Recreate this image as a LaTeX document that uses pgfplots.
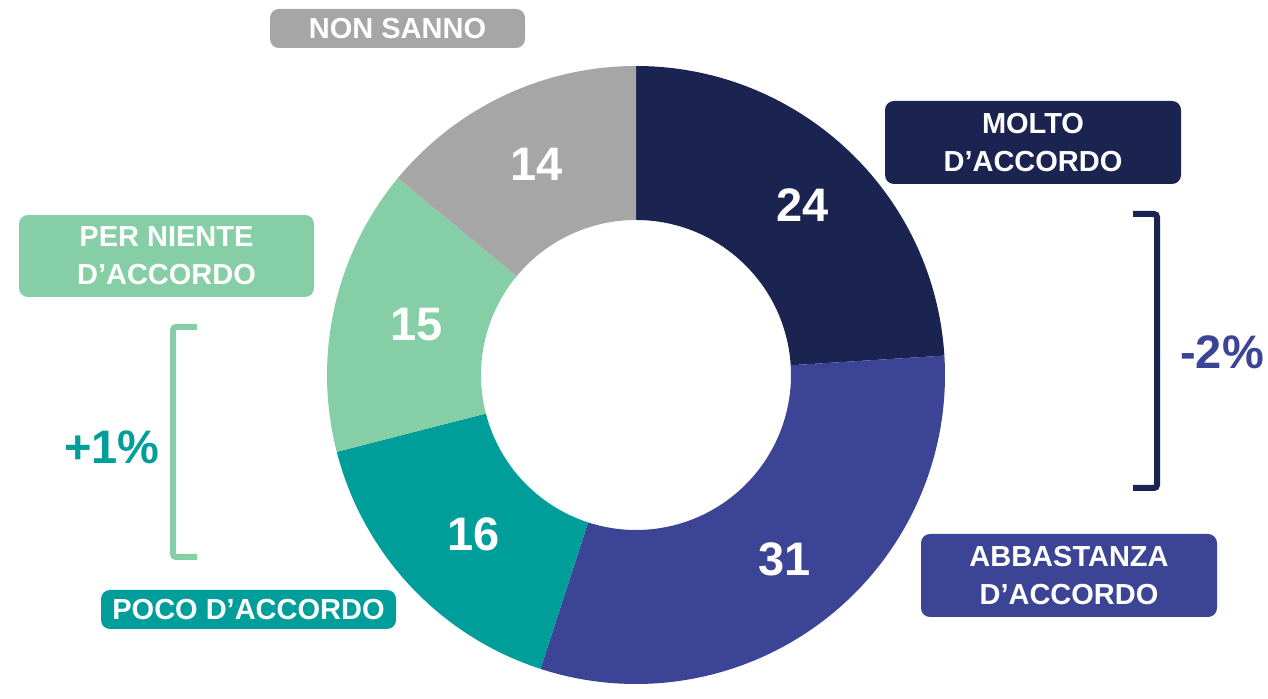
\documentclass[border=0pt]{standalone}
\usepackage{pgfplots}
\usepackage{pgfplotstable}
\pgfplotsset{compat=1.18}
\usetikzlibrary{calc}
\usepackage{fontspec}
\setmainfont{Liberation Sans}
\definecolor{col0}{HTML}{1B2450}
\definecolor{col1}{HTML}{3C4496}
\definecolor{col2}{HTML}{009E9A}
\definecolor{col3}{HTML}{86CEA6}
\definecolor{col4}{HTML}{A6A6A6}

\pgfplotstableread{
label value dx
Molto 24 7
Abbastanza 31 6
Poco 16 7
PerNiente 15 8
NonSanno 14 0
}\donutdata

\newcommand\prepdonut{%
  \gdef\cumangle{90}%
  \pgfplotsforeachungrouped \i in {0,...,4}{%
    \pgfplotstablegetelem{\i}{value}\of\donutdata
    \edef\curval{\pgfplotsretval}%
    \pgfplotstablegetelem{\i}{dx}\of\donutdata
    \edef\curdx{\pgfplotsretval}%
    \pgfmathsetmacro\sa{\cumangle}%
    \pgfmathsetmacro\ea{\cumangle-3.6*\curval}%
    \pgfmathsetmacro\ma{(\sa+\ea)/2}%
    \expandafter\xdef\csname sa\i\endcsname{\sa}%
    \expandafter\xdef\csname ea\i\endcsname{\ea}%
    \expandafter\xdef\csname ma\i\endcsname{\ma}%
    \expandafter\xdef\csname val\i\endcsname{\curval}%
    \expandafter\xdef\csname dx\i\endcsname{\curdx}%
    \xdef\cumangle{\ea}%
  }}
\prepdonut

\begin{document}
\begin{tikzpicture}
\begin{axis}[scale only axis, width=1268pt, height=684pt,
  xmin=0, xmax=1268, ymin=0, ymax=684, hide axis, clip=false]
\draw[draw=none] (axis cs:0,0) rectangle (axis cs:1268,684);
\pgfplotsinvokeforeach{0,...,4}{
  \fill[col#1] ($(axis cs:636,309)+(\csname sa#1\endcsname:309pt)$)
     arc[start angle=\csname sa#1\endcsname, end angle=\csname ea#1\endcsname, radius=309pt]
     -- ($(axis cs:636,309)+(\csname ea#1\endcsname:155pt)$)
     arc[start angle=\csname ea#1\endcsname, end angle=\csname sa#1\endcsname, radius=155pt]
     -- cycle;
  \node[text=white, font=\fontsize{47}{47}\selectfont\bfseries, xshift=\csname dx#1\endcsname pt]
     at ($(axis cs:636,309)+(\csname ma#1\endcsname:233pt)$) {\csname val#1\endcsname};
}
% label boxes
\tikzset{lbl/.style={rounded corners=9pt, text=white, align=center,
  inner sep=0pt, font=\fontsize{29}{38}\selectfont\bfseries}}
\node[lbl, fill=col4, minimum width=255pt, minimum height=39pt] at (axis cs:397.5,655.5) {NON SANNO};
\node[lbl, fill=col0, minimum width=296pt, minimum height=83pt] at (axis cs:1033,541.5) {MOLTO\\D’ACCORDO};
\node[lbl, fill=col3, minimum width=295pt, minimum height=82pt] at (axis cs:166.5,428) {PER NIENTE\\D’ACCORDO};
\node[lbl, fill=col1, minimum width=296pt, minimum height=83pt] at (axis cs:1069,108.5) {ABBASTANZA\\D’ACCORDO};
\node[lbl, fill=col2, minimum width=295pt, minimum height=39pt] at (axis cs:248.5,74.5) {POCO D’ACCORDO};
% brackets
\draw[col0, line width=6pt, rounded corners=3pt] (axis cs:1133,470) -- (axis cs:1157,470) -- (axis cs:1157,196) -- (axis cs:1133,196);
\draw[col3, line width=6pt, rounded corners=3pt] (axis cs:197,357) -- (axis cs:173,357) -- (axis cs:173,127) -- (axis cs:197,127);
\node[text=col1, font=\fontsize{47}{47}\selectfont\bfseries] at (axis cs:1222,332) {-2\%};
\node[text=col2, font=\fontsize{47}{47}\selectfont\bfseries] at (axis cs:112,237) {+1\%};
\end{axis}
\end{tikzpicture}
\end{document}
